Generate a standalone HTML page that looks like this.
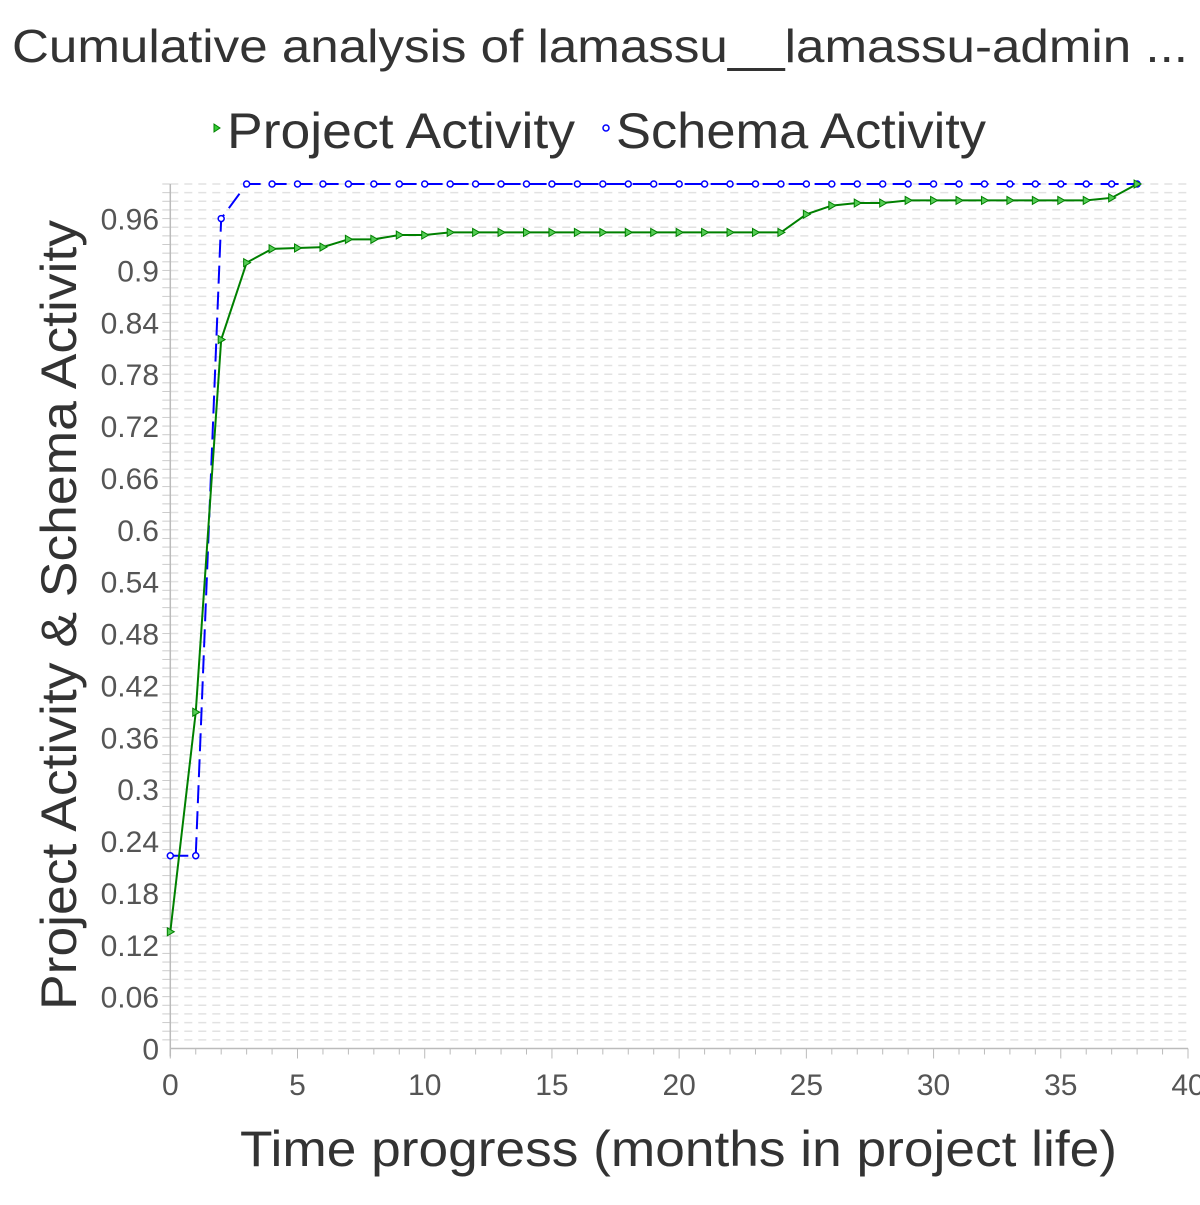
<!DOCTYPE html>
<html><head><meta charset="utf-8"><style>
body{margin:0;background:#fff;}
svg text{font-family:"Liberation Sans",sans-serif;}
</style></head><body>
<svg id="chart" width="1200" height="1200" xmlns="http://www.w3.org/2000/svg">
<text x="12" y="62" font-size="46" fill="#333" textLength="1176" lengthAdjust="spacingAndGlyphs">Cumulative analysis of lamassu__lamassu-admin ...</text>
<g>
<g>
<path d="M214,124 l6,4 l-6,4z" fill="#3c3" stroke="green" stroke-width="1"/>
<text x="227" y="148" font-size="50" fill="#333" textLength="348" lengthAdjust="spacingAndGlyphs">Project Activity</text></g>
<g>
<circle cx="606" cy="128" r="3" fill="none" stroke="blue" stroke-width="1.5"/>
<text x="616" y="148" font-size="50" fill="#333" textLength="370" lengthAdjust="spacingAndGlyphs">Schema Activity</text></g>
</g>
<g id="grid"></g>
<g id="axes"></g>
<g id="series"></g>
<text x="240" y="1166" font-size="50" fill="#333" textLength="877" lengthAdjust="spacingAndGlyphs">Time progress (months in project life)</text>
<text transform="translate(76,1010) rotate(-90)" font-size="50" fill="#333" textLength="790" lengthAdjust="spacingAndGlyphs">Project Activity &amp; Schema Activity</text>
</svg>
<script>
const months = [0,1,2,3,4,5,6,7,8,9,10,11,12,13,14,15,16,17,18,19,20,21,22,23,24,25,26,27,28,29,30,31,32,33,34,35,36,37,38];
const projectActivity = [0.135,0.389,0.82,0.909,0.925,0.926,0.927,0.936,0.936,0.941,0.941,0.944,0.944,0.944,0.944,0.944,0.944,0.944,0.944,0.944,0.944,0.944,0.944,0.944,0.944,0.965,0.975,0.978,0.978,0.981,0.981,0.981,0.981,0.981,0.981,0.981,0.981,0.984,1.0];
const schemaActivity = [0.223,0.223,0.96,1,1,1,1,1,1,1,1,1,1,1,1,1,1,1,1,1,1,1,1,1,1,1,1,1,1,1,1,1,1,1,1,1,1,1,1];
const xTicks = [0,5,10,15,20,25,30,35,40];
const yTicks = ["0","0.06","0.12","0.18","0.24","0.3","0.36","0.42","0.48","0.54","0.6","0.66","0.72","0.78","0.84","0.9","0.96"];

const X0=170.3, X1=1188, Y0=1048.5, YTOP=184;
const xs = v => X0 + v*(X1-X0)/40;
const ys = v => Y0 - v*(Y0-YTOP);
const NS="http://www.w3.org/2000/svg";
function mk(tag, attrs, parent){const e=document.createElementNS(NS,tag);for(const k in attrs)e.setAttribute(k,attrs[k]);parent.appendChild(e);return e;}
const grid=document.getElementById('grid'), axes=document.getElementById('axes'), series=document.getElementById('series');
for(let i=1;i<=100;i++){
  const y=ys(i/100);
  const l=mk('line',{x1:X0,x2:X1,y1:y,y2:y,stroke:'#e2e2e2','stroke-width':1.5,'stroke-dasharray':'8,6'},grid);
  
  
  mk('line',{x1:X0-8,x2:X0,y1:y,y2:y,stroke:'#ccc','stroke-width':1},axes);
}
mk('line',{x1:X0,x2:X0,y1:YTOP,y2:Y0+8,stroke:'#bbb','stroke-width':1.5},axes);
mk('line',{x1:X0,x2:X1,y1:Y0,y2:Y0,stroke:'#bbb','stroke-width':1.5},axes);
for(let i=0;i<=40;i++){mk('line',{x1:xs(i),x2:xs(i),y1:Y0,y2:Y0+(i%5===0?10:6),stroke:'#bbb','stroke-width':1},axes);}
xTicks.forEach(v=>{const t=mk('text',{x:xs(v),y:1095,'font-size':30,fill:'#555','text-anchor':'middle'},axes);t.textContent=v;
  
  });
yTicks.forEach(s=>{const t=mk('text',{x:159,y:ys(parseFloat(s))+11,'font-size':30,fill:'#555','text-anchor':'end'},axes);t.textContent=s;
  
  });
const sp=mk('polyline',{points:months.map((m,i)=>xs(m)+','+ys(schemaActivity[i])).join(' '),fill:'none',stroke:'blue','stroke-width':2,'stroke-dasharray':'18,8'},series);


const pp=mk('polyline',{points:months.map((m,i)=>xs(m)+','+ys(projectActivity[i])).join(' '),fill:'none',stroke:'green','stroke-width':2},series);


months.forEach((m,i)=>{
  const c=mk('circle',{cx:xs(m),cy:ys(schemaActivity[i]),r:3,fill:'#fff',stroke:'blue','stroke-width':1.5},series);
  
  
  const x=xs(m),y=ys(projectActivity[i]);
  const p=mk('path',{d:`M${x-3},${y-4} L${x+4},${y} L${x-3},${y+4}Z`,fill:'#5c5',stroke:'green','stroke-width':1},series);
  
  
});
</script>
</body></html>
